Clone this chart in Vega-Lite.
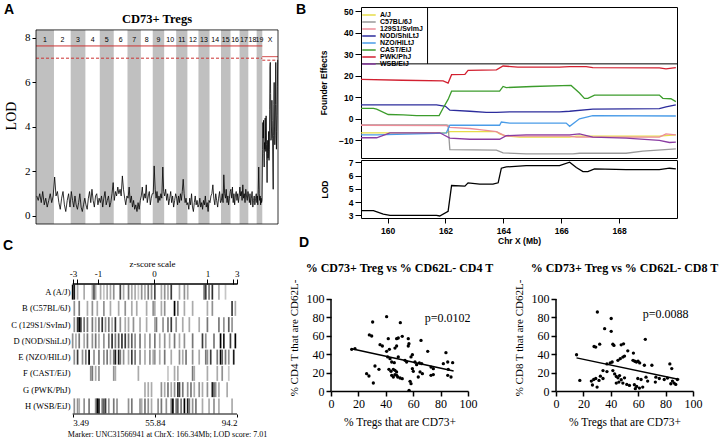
{
"$schema": "https://vega.github.io/schema/vega-lite/v6.json",
"padding": {"left": 3, "top": 2, "right": 0, "bottom": 0},
"config": {"view": {"stroke": null}, "axis": {"grid": false, "labelOverlap": false, "labelColor": "#000", "titleColor": "#000", "tickColor": "#000", "domainColor": "#000"}, "title": {"color": "#000"}},
"datasets": {
"chroms": [
{"c":"1","k":1,"s":0,"e":195.5,"m":97.8},{"c":"2","k":2,"s":195.5,"e":377.6,"m":286.6},{"c":"3","k":3,"s":377.6,"e":537.6,"m":457.6},{"c":"4","k":4,"s":537.6,"e":694.1,"m":615.9},{"c":"5","k":5,"s":694.1,"e":845.9,"m":770},{"c":"6","k":6,"s":845.9,"e":995.6,"m":920.8},{"c":"7","k":7,"s":995.6,"e":1141.0,"m":1068.3},{"c":"8","k":8,"s":1141.0,"e":1270.4,"m":1205.7},{"c":"9","k":9,"s":1270.4,"e":1395.0,"m":1332.7},{"c":"10","k":10,"s":1395.0,"e":1525.7,"m":1460.4},{"c":"11","k":11,"s":1525.7,"e":1647.8,"m":1586.8},{"c":"12","k":12,"s":1647.8,"e":1767.9,"m":1707.9},{"c":"13","k":13,"s":1767.9,"e":1888.3,"m":1828.1},{"c":"14","k":14,"s":1888.3,"e":2013.2,"m":1950.8},{"c":"15","k":15,"s":2013.2,"e":2117.2,"m":2065.2},{"c":"16","k":16,"s":2117.2,"e":2215.4,"m":2166.3},{"c":"17","k":17,"s":2215.4,"e":2310.7,"m":2263.1},{"c":"18","k":18,"s":2310.7,"e":2401.4,"m":2356.1},{"c":"19","k":19,"s":2401.4,"e":2462.8,"m":2432.1},{"c":"X","k":20,"s":2462.8,"e":2633.8,"m":2548.3}
],
"thr": [{"a":0,"b":2462.8,"y":7.64,"k":"s"},{"a":0,"b":2462.8,"y":7.09,"k":"d"},{"a":2462.8,"b":2633.8,"y":7.16,"k":"s"},{"a":2462.8,"b":2633.8,"y":7.0,"k":"d"}],
"lod": [
{"p":8,"l":0.9},{"p":24,"l":0.7},{"p":41,"l":1.0},{"p":57,"l":0.6},{"p":73,"l":1.1},{"p":90,"l":0.5},{"p":106,"l":0.8},{"p":122,"l":0.4},{"p":139,"l":0.7},{"p":155,"l":1.0},{"p":171,"l":0.6},{"p":187,"l":0.9},
{"p":203,"l":1.75},{"p":218,"l":0.9},{"p":233,"l":1.1},{"p":249,"l":0.6},{"p":264,"l":0.3},{"p":279,"l":0.8},{"p":294,"l":1.1},{"p":309,"l":0.5},{"p":324,"l":0.2},{"p":340,"l":0.7},{"p":355,"l":1.0},{"p":370,"l":0.4},
{"p":384,"l":1.1},{"p":398,"l":0.7},{"p":411,"l":0.4},{"p":424,"l":0.9},{"p":437,"l":0.5},{"p":451,"l":0.3},{"p":464,"l":0.6},{"p":477,"l":1.0},{"p":491,"l":0.4},{"p":504,"l":0.2},{"p":517,"l":0.5},{"p":531,"l":0.8},
{"p":544,"l":0.5},{"p":557,"l":0.3},{"p":570,"l":0.8},{"p":583,"l":1.1},{"p":596,"l":0.6},{"p":609,"l":1.2},{"p":622,"l":0.7},{"p":635,"l":0.4},{"p":648,"l":0.9},{"p":661,"l":1.0},{"p":674,"l":0.5},{"p":687,"l":0.8},
{"p":700,"l":0.6},{"p":713,"l":0.9},{"p":726,"l":0.4},{"p":738,"l":0.8},{"p":751,"l":1.1},{"p":764,"l":0.5},{"p":776,"l":0.7},{"p":789,"l":0.9},{"p":802,"l":0.4},{"p":814,"l":0.6},{"p":827,"l":1.0},{"p":840,"l":1.5},
{"p":852,"l":0.7},{"p":865,"l":1.1},{"p":877,"l":0.9},{"p":890,"l":1.3},{"p":902,"l":1.0},{"p":915,"l":1.2},{"p":927,"l":0.9},{"p":940,"l":1.8},{"p":952,"l":1.2},{"p":965,"l":0.8},{"p":977,"l":0.5},{"p":990,"l":0.9},
{"p":1002,"l":0.8},{"p":1014,"l":1.3},{"p":1026,"l":0.6},{"p":1038,"l":0.9},{"p":1050,"l":0.4},{"p":1062,"l":0.7},{"p":1074,"l":0.3},{"p":1086,"l":0.5},{"p":1099,"l":0.2},{"p":1111,"l":0.6},{"p":1123,"l":0.3},{"p":1135,"l":0.7},
{"p":1146,"l":0.9},{"p":1157,"l":1.3},{"p":1168,"l":0.7},{"p":1179,"l":1.0},{"p":1189,"l":0.8},{"p":1200,"l":1.4},{"p":1211,"l":0.6},{"p":1222,"l":0.9},{"p":1233,"l":1.1},{"p":1244,"l":0.5},{"p":1254,"l":0.8},{"p":1265,"l":1.0},
{"p":1276,"l":1.0},{"p":1286,"l":2.25},{"p":1297,"l":1.2},{"p":1307,"l":0.8},{"p":1317,"l":1.1},{"p":1328,"l":0.6},{"p":1338,"l":0.9},{"p":1348,"l":0.7},{"p":1359,"l":1.0},{"p":1369,"l":0.8},{"p":1380,"l":2.2},{"p":1390,"l":1.1},
{"p":1400,"l":0.9},{"p":1411,"l":1.2},{"p":1422,"l":0.7},{"p":1433,"l":1.0},{"p":1444,"l":0.5},{"p":1455,"l":0.8},{"p":1466,"l":1.1},{"p":1476,"l":0.6},{"p":1487,"l":0.9},{"p":1498,"l":0.4},{"p":1509,"l":0.7},{"p":1520,"l":1.0},
{"p":1531,"l":0.8},{"p":1541,"l":0.5},{"p":1551,"l":0.9},{"p":1561,"l":0.6},{"p":1572,"l":1.0},{"p":1582,"l":0.7},{"p":1592,"l":1.1},{"p":1602,"l":1.65},{"p":1612,"l":1.0},{"p":1623,"l":0.6},{"p":1633,"l":0.8},{"p":1643,"l":0.5},
{"p":1653,"l":0.6},{"p":1663,"l":0.3},{"p":1673,"l":0.8},{"p":1683,"l":0.5},{"p":1693,"l":1.0},{"p":1703,"l":0.4},{"p":1713,"l":0.2},{"p":1723,"l":0.6},{"p":1733,"l":0.9},{"p":1743,"l":0.5},{"p":1753,"l":0.7},{"p":1763,"l":0.4},
{"p":1773,"l":0.5},{"p":1783,"l":0.8},{"p":1793,"l":0.4},{"p":1803,"l":0.6},{"p":1813,"l":0.3},{"p":1823,"l":0.7},{"p":1833,"l":0.5},{"p":1843,"l":0.9},{"p":1853,"l":0.4},{"p":1863,"l":0.6},{"p":1873,"l":0.2},{"p":1883,"l":0.7},
{"p":1894,"l":0.6},{"p":1904,"l":0.9},{"p":1914,"l":1.0},{"p":1925,"l":1.4},{"p":1935,"l":0.8},{"p":1946,"l":0.5},{"p":1956,"l":1.0},{"p":1966,"l":0.7},{"p":1977,"l":0.4},{"p":1987,"l":0.8},{"p":1998,"l":1.1},{"p":2008,"l":0.6},
{"p":2018,"l":0.7},{"p":2027,"l":1.0},{"p":2036,"l":0.6},{"p":2044,"l":1.85},{"p":2053,"l":1.0},{"p":2062,"l":0.8},{"p":2070,"l":1.2},{"p":2079,"l":0.6},{"p":2088,"l":0.9},{"p":2096,"l":0.5},{"p":2105,"l":0.8},{"p":2114,"l":1.1},
{"p":2121,"l":1.2},{"p":2130,"l":0.8},{"p":2138,"l":1.3},{"p":2146,"l":0.6},{"p":2154,"l":1.0},{"p":2162,"l":0.5},{"p":2170,"l":0.9},{"p":2179,"l":1.1},{"p":2187,"l":0.7},{"p":2195,"l":1.0},{"p":2203,"l":0.6},{"p":2211,"l":0.9},
{"p":2219,"l":1.3},{"p":2227,"l":0.9},{"p":2235,"l":1.1},{"p":2243,"l":0.7},{"p":2251,"l":1.4},{"p":2259,"l":0.8},{"p":2267,"l":1.0},{"p":2275,"l":0.6},{"p":2283,"l":1.2},{"p":2291,"l":0.9},{"p":2299,"l":0.7},{"p":2307,"l":1.1},
{"p":2314,"l":0.9},{"p":2322,"l":0.6},{"p":2329,"l":1.0},{"p":2337,"l":0.5},{"p":2344,"l":0.8},{"p":2352,"l":1.1},{"p":2360,"l":0.4},{"p":2367,"l":0.7},{"p":2375,"l":0.9},{"p":2382,"l":0.5},{"p":2390,"l":0.8},{"p":2397,"l":1.0},
{"p":2404,"l":0.6},{"p":2409,"l":0.9},{"p":2414,"l":0.5},{"p":2419,"l":1.2},{"p":2424,"l":2.2},{"p":2430,"l":1.0},{"p":2435,"l":0.7},{"p":2440,"l":0.9},{"p":2445,"l":0.5},{"p":2450,"l":0.8},{"p":2455,"l":0.6},{"p":2460,"l":0.7},
{"p":2466,"l":3.0},{"p":2469.5,"l":4.2},{"p":2473,"l":3.5},{"p":2476.5,"l":4.3},{"p":2480,"l":2.8},{"p":2483.5,"l":2.2},{"p":2487,"l":3.3},{"p":2490.5,"l":3.0},{"p":2494,"l":4.4},{"p":2497.5,"l":3.6},{"p":2501,"l":2.9},{"p":2504.5,"l":4.5},{"p":2508,"l":3.2},{"p":2511.5,"l":2.5},{"p":2515,"l":1.5},{"p":2518.5,"l":2.8},{"p":2522,"l":3.4},{"p":2525.5,"l":2.6},{"p":2529,"l":2.9},{"p":2532.5,"l":3.8},{"p":2536,"l":2.5},{"p":2539.5,"l":3.0},{"p":2543,"l":4.8},{"p":2546.5,"l":6.7},{"p":2550,"l":6.9},{"p":2553.5,"l":5.5},{"p":2557,"l":3.4},{"p":2560.5,"l":3.5},{"p":2564,"l":4.0},{"p":2567.5,"l":5.2},{"p":2571,"l":4.3},{"p":2574.5,"l":3.5},{"p":2578,"l":2.2},{"p":2581.5,"l":1.2},{"p":2585,"l":3.6},{"p":2588.5,"l":5.0},{"p":2592,"l":6.0},{"p":2595.5,"l":4.0},{"p":2599,"l":3.2},{"p":2602.5,"l":3.6},{"p":2606,"l":5.0},{"p":2609.5,"l":6.9},{"p":2613,"l":5.0},{"p":2616.5,"l":3.0},{"p":2620,"l":3.8},{"p":2623.5,"l":4.5},{"p":2627,"l":5.8},{"p":2630.5,"l":7.0}
],
"fe": [
{"s":"A/J","x":159.08,"y":-6.5},{"s":"A/J","x":162.03,"y":-6.5},{"s":"A/J","x":162.15,"y":-6.0},{"s":"A/J","x":163.76,"y":-6.0},{"s":"A/J","x":163.87,"y":-7.0},{"s":"A/J","x":164.10,"y":-8.0},{"s":"A/J","x":164.56,"y":-8.5},{"s":"A/J","x":166.29,"y":-8.5},{"s":"A/J","x":166.52,"y":-8.0},{"s":"A/J","x":169.39,"y":-8.0},{"s":"A/J","x":169.96,"y":-7.5},
{"s":"C57BL/6J","x":159.08,"y":-2.8},{"s":"C57BL/6J","x":162.03,"y":-2.8},{"s":"C57BL/6J","x":162.09,"y":-3.0},{"s":"C57BL/6J","x":162.15,"y":-14.3},{"s":"C57BL/6J","x":163.76,"y":-14.5},{"s":"C57BL/6J","x":163.99,"y":-15.8},{"s":"C57BL/6J","x":164.79,"y":-16.3},{"s":"C57BL/6J","x":166.40,"y":-16.3},{"s":"C57BL/6J","x":166.63,"y":-16.0},{"s":"C57BL/6J","x":168.24,"y":-16.0},{"s":"C57BL/6J","x":168.82,"y":-15.0},{"s":"C57BL/6J","x":169.96,"y":-14.0},
{"s":"129S1/SvImJ","x":159.08,"y":-3.0},{"s":"129S1/SvImJ","x":162.03,"y":-3.2},{"s":"129S1/SvImJ","x":162.15,"y":-4.0},{"s":"129S1/SvImJ","x":162.84,"y":-4.5},{"s":"129S1/SvImJ","x":163.18,"y":-5.0},{"s":"129S1/SvImJ","x":163.76,"y":-6.0},{"s":"129S1/SvImJ","x":163.99,"y":-7.5},{"s":"129S1/SvImJ","x":164.10,"y":-8.0},{"s":"129S1/SvImJ","x":166.29,"y":-8.0},{"s":"129S1/SvImJ","x":166.52,"y":-8.5},{"s":"129S1/SvImJ","x":169.39,"y":-8.5},{"s":"129S1/SvImJ","x":169.62,"y":-7.0},{"s":"129S1/SvImJ","x":169.96,"y":-7.5},
{"s":"NOD/ShiLtJ","x":159.08,"y":6.5},{"s":"NOD/ShiLtJ","x":161.69,"y":6.5},{"s":"NOD/ShiLtJ","x":162.0,"y":5.8},{"s":"NOD/ShiLtJ","x":162.15,"y":4.0},{"s":"NOD/ShiLtJ","x":162.84,"y":3.5},{"s":"NOD/ShiLtJ","x":163.41,"y":3.0},{"s":"NOD/ShiLtJ","x":163.76,"y":3.0},{"s":"NOD/ShiLtJ","x":164.22,"y":3.2},{"s":"NOD/ShiLtJ","x":165.94,"y":3.2},{"s":"NOD/ShiLtJ","x":166.29,"y":3.5},{"s":"NOD/ShiLtJ","x":167.09,"y":4.5},{"s":"NOD/ShiLtJ","x":169.39,"y":4.7},{"s":"NOD/ShiLtJ","x":169.62,"y":5.5},{"s":"NOD/ShiLtJ","x":169.96,"y":6.5},
{"s":"NZO/HlLtJ","x":159.08,"y":-7.5},{"s":"NZO/HlLtJ","x":159.62,"y":-7.5},{"s":"NZO/HlLtJ","x":161.69,"y":-6.8},{"s":"NZO/HlLtJ","x":162.03,"y":-6.5},{"s":"NZO/HlLtJ","x":162.15,"y":-3.0},{"s":"NZO/HlLtJ","x":163.87,"y":-3.0},{"s":"NZO/HlLtJ","x":163.93,"y":-1.5},{"s":"NZO/HlLtJ","x":164.22,"y":-2.0},{"s":"NZO/HlLtJ","x":166.17,"y":-2.0},{"s":"NZO/HlLtJ","x":166.29,"y":-3.5},{"s":"NZO/HlLtJ","x":166.63,"y":0.0},{"s":"NZO/HlLtJ","x":167.09,"y":1.5},{"s":"NZO/HlLtJ","x":169.96,"y":1.3},
{"s":"CAST/EiJ","x":159.08,"y":4.8},{"s":"CAST/EiJ","x":159.51,"y":4.8},{"s":"CAST/EiJ","x":159.62,"y":4.5},{"s":"CAST/EiJ","x":160.02,"y":2.0},{"s":"CAST/EiJ","x":160.54,"y":1.8},{"s":"CAST/EiJ","x":161.0,"y":1.5},{"s":"CAST/EiJ","x":161.78,"y":1.5},{"s":"CAST/EiJ","x":161.92,"y":5.0},{"s":"CAST/EiJ","x":162.09,"y":9.0},{"s":"CAST/EiJ","x":162.21,"y":12.8},{"s":"CAST/EiJ","x":163.87,"y":12.8},{"s":"CAST/EiJ","x":163.99,"y":15.0},{"s":"CAST/EiJ","x":164.10,"y":14.5},{"s":"CAST/EiJ","x":165.0,"y":15.0},{"s":"CAST/EiJ","x":166.34,"y":15.5},{"s":"CAST/EiJ","x":166.63,"y":12.0},{"s":"CAST/EiJ","x":166.80,"y":9.5},{"s":"CAST/EiJ","x":166.92,"y":9.5},{"s":"CAST/EiJ","x":167.15,"y":11.0},{"s":"CAST/EiJ","x":169.39,"y":11.0},{"s":"CAST/EiJ","x":169.51,"y":9.5},{"s":"CAST/EiJ","x":169.79,"y":9.3},{"s":"CAST/EiJ","x":169.96,"y":8.0},
{"s":"PWK/PhJ","x":159.08,"y":18.3},{"s":"PWK/PhJ","x":160.5,"y":17.9},{"s":"PWK/PhJ","x":161.92,"y":17.6},{"s":"PWK/PhJ","x":162.09,"y":16.6},{"s":"PWK/PhJ","x":162.21,"y":20.5},{"s":"PWK/PhJ","x":162.67,"y":20.6},{"s":"PWK/PhJ","x":162.78,"y":22.5},{"s":"PWK/PhJ","x":163.76,"y":22.7},{"s":"PWK/PhJ","x":163.99,"y":24.5},{"s":"PWK/PhJ","x":164.5,"y":24.0},{"s":"PWK/PhJ","x":165.94,"y":24.0},{"s":"PWK/PhJ","x":166.29,"y":24.2},{"s":"PWK/PhJ","x":166.86,"y":24.2},{"s":"PWK/PhJ","x":167.09,"y":23.8},{"s":"PWK/PhJ","x":169.39,"y":23.6},{"s":"PWK/PhJ","x":169.62,"y":23.2},{"s":"PWK/PhJ","x":169.96,"y":23.8},
{"s":"WSB/EiJ","x":159.08,"y":-8.8},{"s":"WSB/EiJ","x":159.62,"y":-8.8},{"s":"WSB/EiJ","x":160.08,"y":-6.5},{"s":"WSB/EiJ","x":161.80,"y":-6.5},{"s":"WSB/EiJ","x":162.15,"y":-9.0},{"s":"WSB/EiJ","x":162.84,"y":-9.5},{"s":"WSB/EiJ","x":163.87,"y":-9.5},{"s":"WSB/EiJ","x":164.10,"y":-7.8},{"s":"WSB/EiJ","x":164.79,"y":-7.5},{"s":"WSB/EiJ","x":166.29,"y":-7.5},{"s":"WSB/EiJ","x":166.63,"y":-7.0},{"s":"WSB/EiJ","x":167.09,"y":-8.5},{"s":"WSB/EiJ","x":168.24,"y":-9.0},{"s":"WSB/EiJ","x":169.39,"y":-10.0},{"s":"WSB/EiJ","x":169.74,"y":-11.0},{"s":"WSB/EiJ","x":169.96,"y":-10.8}
],
"lodx": [
{"x":159.08,"y":3.35},{"x":159.51,"y":3.35},{"x":159.85,"y":3.1},{"x":160.08,"y":3.0},{"x":161.69,"y":3.0},{"x":161.80,"y":2.95},{"x":162.09,"y":3.3},{"x":162.21,"y":5.25},{"x":162.67,"y":5.2},{"x":162.78,"y":5.45},{"x":163.18,"y":5.35},{"x":163.64,"y":5.35},{"x":163.82,"y":5.45},{"x":163.93,"y":6.55},{"x":164.10,"y":6.65},{"x":164.79,"y":6.75},{"x":165.94,"y":6.75},{"x":166.29,"y":7.0},{"x":166.52,"y":6.6},{"x":166.75,"y":6.3},{"x":166.92,"y":6.3},{"x":167.15,"y":6.5},{"x":168.24,"y":6.45},{"x":169.39,"y":6.45},{"x":169.74,"y":6.55},{"x":169.96,"y":6.5}
],
"hm": [
{"f":"A","i":0,"v":1},{"f":"A","i":1,"v":0.9},{"f":"A","i":3,"v":0.3},{"f":"A","i":7,"v":0.3},{"f":"A","i":12,"v":0.3},{"f":"A","i":13,"v":0.7},{"f":"A","i":14,"v":0.3},{"f":"A","i":17,"v":0.3},{"f":"A","i":19,"v":0.2},{"f":"A","i":21,"v":0.3},{"f":"A","i":23,"v":0.3},{"f":"A","i":25,"v":0.4},{"f":"A","i":29,"v":0.7},{"f":"A","i":31,"v":0.3},{"f":"A","i":34,"v":0.5},{"f":"A","i":36,"v":0.3},{"f":"A","i":38,"v":0.3},{"f":"A","i":40,"v":0.2},{"f":"A","i":42,"v":0.4},{"f":"A","i":44,"v":0.3},{"f":"A","i":46,"v":0.5},{"f":"A","i":48,"v":0.4},{"f":"A","i":50,"v":0.7},{"f":"A","i":54,"v":0.3},{"f":"A","i":56,"v":0.4},{"f":"A","i":58,"v":0.3},{"f":"A","i":60,"v":0.75},{"f":"A","i":65,"v":0.3},{"f":"A","i":68,"v":0.4},{"f":"A","i":70,"v":0.3},{"f":"A","i":80,"v":0.5},{"f":"A","i":81,"v":0.75},{"f":"A","i":83,"v":0.5},{"f":"A","i":85,"v":0.8},{"f":"A","i":89,"v":0.3},{"f":"A","i":93,"v":0.2},
{"f":"B","i":1,"v":0.4},{"f":"B","i":4,"v":0.5},{"f":"B","i":9,"v":0.3},{"f":"B","i":12,"v":0.4},{"f":"B","i":15,"v":0.3},{"f":"B","i":19,"v":0.4},{"f":"B","i":23,"v":0.3},{"f":"B","i":28,"v":0.3},{"f":"B","i":32,"v":0.4},{"f":"B","i":36,"v":0.3},{"f":"B","i":39,"v":0.3},{"f":"B","i":45,"v":0.3},{"f":"B","i":49,"v":0.4},{"f":"B","i":50,"v":0.3},{"f":"B","i":54,"v":0.3},{"f":"B","i":56,"v":0.4},{"f":"B","i":62,"v":1},{"f":"B","i":64,"v":0.5},{"f":"B","i":68,"v":0.3},{"f":"B","i":73,"v":0.3},{"f":"B","i":82,"v":0.3},{"f":"B","i":85,"v":0.4},{"f":"B","i":97,"v":0.75},{"f":"B","i":99,"v":0.3},
{"f":"C","i":1,"v":0.4},{"f":"C","i":3,"v":0.75},{"f":"C","i":4,"v":1},{"f":"C","i":5,"v":0.75},{"f":"C","i":7,"v":0.5},{"f":"C","i":9,"v":0.5},{"f":"C","i":12,"v":0.5},{"f":"C","i":14,"v":0.3},{"f":"C","i":16,"v":0.5},{"f":"C","i":18,"v":0.8},{"f":"C","i":20,"v":0.4},{"f":"C","i":22,"v":0.5},{"f":"C","i":24,"v":0.3},{"f":"C","i":26,"v":0.8},{"f":"C","i":29,"v":0.4},{"f":"C","i":32,"v":0.3},{"f":"C","i":34,"v":0.3},{"f":"C","i":37,"v":0.4},{"f":"C","i":41,"v":0.3},{"f":"C","i":45,"v":0.3},{"f":"C","i":50,"v":0.3},{"f":"C","i":51,"v":0.5},{"f":"C","i":55,"v":0.4},{"f":"C","i":58,"v":0.5},{"f":"C","i":60,"v":0.75},{"f":"C","i":63,"v":0.4},{"f":"C","i":67,"v":0.3},{"f":"C","i":71,"v":0.3},{"f":"C","i":77,"v":0.3},{"f":"C","i":82,"v":0.5},{"f":"C","i":89,"v":0.5},{"f":"C","i":92,"v":0.4},{"f":"C","i":95,"v":0.6},{"f":"C","i":97,"v":0.4},
{"f":"D","i":0,"v":0.4},{"f":"D","i":2,"v":0.3},{"f":"D","i":4,"v":0.5},{"f":"D","i":7,"v":0.3},{"f":"D","i":9,"v":0.5},{"f":"D","i":12,"v":0.4},{"f":"D","i":14,"v":0.5},{"f":"D","i":16,"v":0.3},{"f":"D","i":19,"v":0.4},{"f":"D","i":22,"v":0.5},{"f":"D","i":24,"v":0.8},{"f":"D","i":26,"v":0.5},{"f":"D","i":28,"v":0.6},{"f":"D","i":30,"v":0.8},{"f":"D","i":32,"v":0.75},{"f":"D","i":34,"v":0.5},{"f":"D","i":36,"v":0.6},{"f":"D","i":38,"v":0.4},{"f":"D","i":41,"v":0.5},{"f":"D","i":44,"v":0.3},{"f":"D","i":47,"v":0.4},{"f":"D","i":50,"v":0.5},{"f":"D","i":53,"v":0.3},{"f":"D","i":56,"v":0.4},{"f":"D","i":59,"v":0.3},{"f":"D","i":62,"v":0.5},{"f":"D","i":65,"v":0.3},{"f":"D","i":68,"v":0.4},{"f":"D","i":73,"v":0.5},{"f":"D","i":79,"v":0.75},{"f":"D","i":81,"v":0.4},{"f":"D","i":86,"v":0.5},{"f":"D","i":90,"v":1},{"f":"D","i":92,"v":0.9},{"f":"D","i":96,"v":0.75},{"f":"D","i":99,"v":1},
{"f":"E","i":1,"v":0.4},{"f":"E","i":3,"v":0.75},{"f":"E","i":6,"v":0.4},{"f":"E","i":8,"v":0.5},{"f":"E","i":10,"v":1},{"f":"E","i":13,"v":0.4},{"f":"E","i":16,"v":0.5},{"f":"E","i":19,"v":0.4},{"f":"E","i":21,"v":0.5},{"f":"E","i":23,"v":0.3},{"f":"E","i":25,"v":0.5},{"f":"E","i":26,"v":0.9},{"f":"E","i":28,"v":0.9},{"f":"E","i":29,"v":0.5},{"f":"E","i":31,"v":0.4},{"f":"E","i":34,"v":0.3},{"f":"E","i":36,"v":0.75},{"f":"E","i":38,"v":0.5},{"f":"E","i":41,"v":0.4},{"f":"E","i":44,"v":0.3},{"f":"E","i":47,"v":0.4},{"f":"E","i":49,"v":0.3},{"f":"E","i":50,"v":0.4},{"f":"E","i":53,"v":0.3},{"f":"E","i":56,"v":0.5},{"f":"E","i":60,"v":0.3},{"f":"E","i":65,"v":0.4},{"f":"E","i":67,"v":0.3},{"f":"E","i":69,"v":0.5},{"f":"E","i":73,"v":0.4},{"f":"E","i":77,"v":0.3},{"f":"E","i":81,"v":0.5},{"f":"E","i":82,"v":0.4},{"f":"E","i":84,"v":0.75},{"f":"E","i":88,"v":0.5},{"f":"E","i":90,"v":1},{"f":"E","i":91,"v":0.6},{"f":"E","i":93,"v":0.5},{"f":"E","i":95,"v":0.4},{"f":"E","i":98,"v":0.9},
{"f":"F","i":11,"v":0.4},{"f":"F","i":12,"v":0.5},{"f":"F","i":14,"v":0.3},{"f":"F","i":16,"v":0.4},{"f":"F","i":25,"v":0.4},{"f":"F","i":26,"v":0.3},{"f":"F","i":40,"v":0.3},{"f":"F","i":58,"v":0.2},{"f":"F","i":62,"v":0.3},{"f":"F","i":64,"v":0.3},{"f":"F","i":73,"v":0.5},{"f":"F","i":74,"v":0.3},{"f":"F","i":82,"v":0.3},{"f":"F","i":88,"v":0.3},{"f":"F","i":91,"v":0.4},{"f":"F","i":95,"v":0.2},
{"f":"G","i":44,"v":0.3},{"f":"G","i":46,"v":0.3},{"f":"G","i":48,"v":0.3},{"f":"G","i":54,"v":0.4},{"f":"G","i":56,"v":0.3},{"f":"G","i":58,"v":0.5},{"f":"G","i":60,"v":0.3},{"f":"G","i":62,"v":0.4},{"f":"G","i":64,"v":0.8},{"f":"G","i":65,"v":0.75},{"f":"G","i":67,"v":0.5},{"f":"G","i":70,"v":0.4},{"f":"G","i":72,"v":0.5},{"f":"G","i":74,"v":0.3},{"f":"G","i":77,"v":0.4},{"f":"G","i":79,"v":0.3},{"f":"G","i":82,"v":0.4},{"f":"G","i":85,"v":0.9},{"f":"G","i":86,"v":0.6},{"f":"G","i":87,"v":0.4},{"f":"G","i":89,"v":0.3},{"f":"G","i":94,"v":0.3},
{"f":"H","i":1,"v":0.4},{"f":"H","i":3,"v":0.4},{"f":"H","i":4,"v":0.3},{"f":"H","i":7,"v":0.4},{"f":"H","i":10,"v":0.5},{"f":"H","i":14,"v":0.4},{"f":"H","i":15,"v":1},{"f":"H","i":16,"v":0.9},{"f":"H","i":18,"v":0.5},{"f":"H","i":19,"v":0.6},{"f":"H","i":20,"v":0.75},{"f":"H","i":22,"v":0.4},{"f":"H","i":25,"v":0.5},{"f":"H","i":27,"v":0.4},{"f":"H","i":34,"v":0.4},{"f":"H","i":36,"v":0.5},{"f":"H","i":41,"v":0.4},{"f":"H","i":42,"v":0.3},{"f":"H","i":44,"v":0.5},{"f":"H","i":46,"v":0.4},{"f":"H","i":48,"v":0.3},{"f":"H","i":52,"v":0.4},{"f":"H","i":54,"v":0.5},{"f":"H","i":57,"v":0.4},{"f":"H","i":60,"v":0.5},{"f":"H","i":61,"v":1},{"f":"H","i":63,"v":0.5},{"f":"H","i":64,"v":0.6},{"f":"H","i":66,"v":0.5},{"f":"H","i":68,"v":1},{"f":"H","i":70,"v":0.9},{"f":"H","i":71,"v":0.5},{"f":"H","i":73,"v":0.4},{"f":"H","i":75,"v":0.5},{"f":"H","i":79,"v":0.3},{"f":"H","i":83,"v":0.3},{"f":"H","i":86,"v":0.4},{"f":"H","i":89,"v":0.3},{"f":"H","i":97,"v":0.3}
],
"d1": [
{"x":15.1,"y":45.3},{"x":17.5,"y":46},{"x":30.4,"y":75},{"x":40.6,"y":80.8},{"x":50.6,"y":74.3},{"x":28,"y":61},{"x":29.7,"y":59.8},{"x":35.8,"y":50.4},{"x":37.5,"y":48.9},{"x":41.8,"y":56.9},{"x":47.9,"y":56.9},{"x":49.1,"y":57.6},{"x":52,"y":59.4},{"x":56.4,"y":56.9},{"x":56.9,"y":51.4},{"x":56.4,"y":48.9},{"x":65.7,"y":55},{"x":46.7,"y":46.7},{"x":47.9,"y":48.9},{"x":40.6,"y":43.1},{"x":42.6,"y":45.3},{"x":59.4,"y":39.5},{"x":58.4,"y":37},{"x":70.6,"y":43.1},{"x":83.9,"y":41.7},{"x":32.1,"y":27.2},{"x":35,"y":23.6},{"x":26,"y":18.8},{"x":27.7,"y":16.3},{"x":30.9,"y":8.7},{"x":41.4,"y":37},{"x":43.1,"y":35.1},{"x":44.3,"y":31.5},{"x":46.2,"y":30.8},{"x":49.1,"y":37},{"x":54,"y":33.3},{"x":55.2,"y":31.5},{"x":42.3,"y":23.6},{"x":43.8,"y":21.4},{"x":45.5,"y":23.6},{"x":46.7,"y":22.5},{"x":47.9,"y":20.7},{"x":44.3,"y":17},{"x":45.5,"y":15.2},{"x":46.7,"y":17.8},{"x":47.9,"y":17},{"x":48.7,"y":15.2},{"x":50.4,"y":14.1},{"x":52,"y":13.4},{"x":57.7,"y":10.5},{"x":58.4,"y":8},{"x":57,"y":0.7},{"x":59.4,"y":24.3},{"x":60.1,"y":21.4},{"x":61.3,"y":31.5},{"x":62.5,"y":28.6},{"x":64.5,"y":30.4},{"x":66.2,"y":29.7},{"x":65,"y":20.7},{"x":66.7,"y":18.8},{"x":63.7,"y":15.2},{"x":73,"y":26},{"x":74.7,"y":24.3},{"x":73,"y":17},{"x":74.7,"y":17.8},{"x":82,"y":29.7},{"x":85.2,"y":31.5},{"x":88.8,"y":30.8},{"x":85.2,"y":17},{"x":87.6,"y":15.2},{"x":85.6,"y":23.6}
],
"d2": [
{"x":15,"y":39.4},{"x":17.4,"y":11.5},{"x":30.2,"y":85.9},{"x":40.3,"y":78.8},{"x":35.5,"y":67.7},{"x":40.3,"y":64.9},{"x":27.8,"y":48.4},{"x":29,"y":47.7},{"x":31.9,"y":50.9},{"x":41.5,"y":50.9},{"x":42.3,"y":49.5},{"x":47.6,"y":50.2},{"x":49.3,"y":51.3},{"x":52.4,"y":43.7},{"x":56.5,"y":41.2},{"x":65.2,"y":56.2},{"x":41,"y":31.5},{"x":45.2,"y":33.3},{"x":46.9,"y":35.1},{"x":48.8,"y":36.9},{"x":50,"y":38},{"x":56.2,"y":33.3},{"x":57.5,"y":32.3},{"x":58.7,"y":31.5},{"x":59.9,"y":32.3},{"x":61.1,"y":30.5},{"x":64.5,"y":28},{"x":70,"y":28},{"x":83.1,"y":29.4},{"x":84.5,"y":24.4},{"x":37.2,"y":29.4},{"x":39.6,"y":30.5},{"x":34.3,"y":22.2},{"x":37.2,"y":21.1},{"x":25.8,"y":10.8},{"x":27.5,"y":12.5},{"x":29,"y":13.6},{"x":31.4,"y":11.5},{"x":32.4,"y":16.1},{"x":34.3,"y":13.6},{"x":26.6,"y":6.5},{"x":30,"y":4.3},{"x":41.5,"y":22.2},{"x":42.8,"y":18.6},{"x":44,"y":15.8},{"x":45.2,"y":14.3},{"x":46.4,"y":16.8},{"x":47.6,"y":12.2},{"x":48.8,"y":8.6},{"x":45.9,"y":9.7},{"x":44,"y":8.6},{"x":50,"y":14.3},{"x":51.7,"y":7.2},{"x":53.6,"y":6.1},{"x":57.2,"y":6.8},{"x":58.9,"y":5},{"x":57.9,"y":2.5},{"x":60.9,"y":3.2},{"x":63.3,"y":4.3},{"x":59.7,"y":13.6},{"x":62.1,"y":12.5},{"x":65.7,"y":15},{"x":66.9,"y":10.8},{"x":72.9,"y":15},{"x":75.4,"y":13.6},{"x":72.5,"y":9.7},{"x":79,"y":12.5},{"x":81.4,"y":14},{"x":85,"y":10.8},{"x":86.2,"y":8.6},{"x":87.4,"y":7.2},{"x":83.8,"y":7.9},{"x":88.6,"y":12.5}
]
},
"spacing": -10,
"vconcat": [
{
"spacing": 15,
"hconcat": [
{
"width": 242, "height": 217,
"layer": [
{"data": {"name": "chroms"}, "transform": [{"filter": "datum.k % 2 == 1"}], "mark": {"type": "rect", "fill": "#c0c0c0"},
 "encoding": {"x": {"field": "s", "type": "quantitative", "scale": {"domain": [0, 2633.8], "nice": false, "zero": false}, "axis": null}, "x2": {"field": "e"},
 "y": {"datum": -0.36, "type": "quantitative", "scale": {"domain": [-0.36, 9.39], "nice": false, "zero": false}}, "y2": {"datum": 8.36}}},
{"data": {"name": "thr"}, "mark": {"type": "rule", "color": "#cc3333", "strokeWidth": 1},
 "encoding": {"x": {"field": "a", "type": "quantitative", "axis": null}, "x2": {"field": "b"}, "y": {"field": "y", "type": "quantitative"},
 "strokeDash": {"field": "k", "type": "nominal", "scale": {"domain": ["s", "d"], "range": [[1, 0], [3, 2]]}, "legend": null}}},
{"data": {"name": "lod"}, "mark": {"type": "line", "color": "#000", "strokeWidth": 0.8},
 "encoding": {"x": {"field": "p", "type": "quantitative", "axis": null},
 "y": {"field": "l", "type": "quantitative", "axis": {"values": [0, 2, 4, 6, 8], "tickCount": 20, "format": "d", "labelOverlap": false, "domain": false, "tickSize": 4, "labelPadding": 2, "labelFont": "Liberation Serif", "labelFontSize": 11, "title": "LOD", "titleFont": "Liberation Serif", "titleFontSize": 14, "titleFontWeight": "normal", "titlePadding": 6}}}},
{"data": {"values": [{}]}, "mark": {"type": "rect", "filled": false, "color": "#000", "strokeWidth": 0.8},
 "encoding": {"x": {"datum": 0, "type": "quantitative", "axis": null}, "x2": {"datum": 2633.8}, "y": {"datum": -0.36, "type": "quantitative"}, "y2": {"datum": 8.36}}},
{"data": {"name": "chroms"}, "mark": {"type": "text", "font": "Liberation Sans", "fontSize": 7, "color": "#000"},
 "encoding": {"x": {"field": "m", "type": "quantitative", "axis": null}, "y": {"datum": 7.91, "type": "quantitative"}, "text": {"field": "c"}}},
{"data": {"values": [{}]}, "mark": {"type": "text", "font": "Liberation Serif", "fontSize": 12.5, "fontWeight": "bold", "color": "#000"},
 "encoding": {"x": {"datum": 1317, "type": "quantitative", "axis": null}, "y": {"datum": 8.85, "type": "quantitative"}, "text": {"value": "CD73+ Tregs"}}},
{"data": {"values": [{}]}, "mark": {"type": "text", "font": "Liberation Sans", "fontSize": 14, "fontWeight": "bold", "color": "#000"},
 "encoding": {"x": {"datum": -294, "type": "quantitative", "axis": null}, "y": {"datum": 9.25, "type": "quantitative"}, "text": {"value": "A"}}}
]
},
{
"spacing": -2,
"vconcat": [
{
"width": 316, "height": 151, "view": {"stroke": "#000", "strokeWidth": 1},
"layer": [
{"data": {"name": "fe"}, "mark": {"type": "line", "strokeWidth": 1.3},
 "encoding": {
 "x": {"field": "x", "type": "quantitative", "scale": {"domain": [159.08, 170.0], "nice": false, "zero": false}, "axis": null},
 "y": {"field": "y", "type": "quantitative", "scale": {"domain": [-18.2, 51.9], "nice": false, "zero": false}, "axis": {"values": [-10, 0, 10, 20, 30, 40, 50], "tickCount": 20, "labelExpr": "format(datum.value, 'd')", "labelOverlap": false, "domain": false, "tickSize": 6, "labelPadding": 2, "labelFont": "Liberation Sans", "labelFontSize": 8.5, "labelFontWeight": "bold", "title": "Founder Effects", "titleFont": "Liberation Sans", "titleFontSize": 8.5, "titleFontWeight": "bold", "titlePadding": 10}},
 "color": {"field": "s", "type": "nominal", "scale": {"domain": ["A/J", "C57BL/6J", "129S1/SvImJ", "NOD/ShiLtJ", "NZO/HlLtJ", "CAST/EiJ", "PWK/PhJ", "WSB/EiJ"], "range": ["#e6dc4a", "#999999", "#ec8c98", "#2c2c9c", "#4a9ce8", "#3c9c2c", "#d22030", "#8a3ca2"]},
  "legend": {"orient": "none", "legendX": 325, "legendY": 5, "direction": "vertical", "title": null, "symbolType": "stroke", "symbolSize": 180, "symbolStrokeWidth": 1.6, "labelFont": "Liberation Sans", "labelFontSize": 7, "labelFontWeight": "bold", "labelColor": "#000", "clipHeight": 6, "rowPadding": 0, "padding": 0, "labelOffset": 3}}}},
{"data": {"values": [{}]}, "mark": {"type": "rule", "color": "#000", "strokeWidth": 1},
 "encoding": {"x": {"datum": 159.08, "type": "quantitative", "axis": null}, "x2": {"datum": 170.0}, "y": {"datum": 25.5, "type": "quantitative"}}},
{"data": {"values": [{}]}, "mark": {"type": "rule", "color": "#000", "strokeWidth": 1},
 "encoding": {"x": {"datum": 161.38, "type": "quantitative", "axis": null}, "y": {"datum": 25.5, "type": "quantitative"}, "y2": {"datum": 51.9}}},
{"data": {"values": [{}]}, "mark": {"type": "text", "font": "Liberation Sans", "fontSize": 14, "fontWeight": "bold", "color": "#000"},
 "encoding": {"x": {"datum": 157.01, "type": "quantitative", "axis": null}, "y": {"datum": 50.5, "type": "quantitative"}, "text": {"value": "B"}}}
]
},
{
"width": 316, "height": 58, "view": {"stroke": "#000", "strokeWidth": 1},
"data": {"name": "lodx"},
"mark": {"type": "line", "color": "#000", "strokeWidth": 1.3},
"encoding": {
 "x": {"field": "x", "type": "quantitative", "scale": {"domain": [159.08, 170.0], "nice": false, "zero": false}, "axis": {"values": [160, 162, 164, 166, 168], "format": "d", "labelOverlap": false, "domain": false, "tickSize": 5, "labelPadding": 3, "labelFlush": false, "labelFont": "Liberation Sans", "labelFontSize": 8.5, "labelFontWeight": "bold", "title": "Chr X (Mb)", "titleFont": "Liberation Sans", "titleFontSize": 8.5, "titleFontWeight": "bold", "titlePadding": 2}},
 "y": {"field": "y", "type": "quantitative", "scale": {"domain": [2.8, 7.17], "nice": false, "zero": false}, "axis": {"values": [3, 4, 5, 6, 7], "format": "d", "labelOverlap": false, "domain": false, "tickSize": 6, "labelPadding": 2, "labelFont": "Liberation Sans", "labelFontSize": 8.5, "labelFontWeight": "bold", "title": "LOD", "titleFont": "Liberation Sans", "titleFontSize": 8.5, "titleFontWeight": "bold", "titlePadding": 19}}
}
}
]
}
]
},
{
"spacing": 20,
"hconcat": [
{
"title": {"text": "C", "anchor": "start", "frame": "group", "dx": -33, "offset": 6, "font": "Liberation Sans", "fontSize": 14, "fontWeight": "bold"},
"width": 201, "height": 130,
"resolve": {"axis": {"x": "independent"}},
"layer": [
{"data": {"name": "hm"}, "mark": {"type": "tick", "thickness": 1.7, "size": 15, "opacity": 1},
 "encoding": {
 "x": {"field": "i", "type": "quantitative", "scale": {"domain": [-22.3, 100], "nice": false, "zero": false},
  "axis": {"orient": "top", "values": [0.2, 2.5, 15.5, 49.5, 82, 97.5, 99.8], "tickCount": 20, "labelOverlap": false, "labelExpr": "datum.value < 1 ? '-3' : datum.value < 10 ? '' : datum.value < 20 ? '-1' : datum.value < 60 ? '0' : datum.value < 90 ? '1' : datum.value < 99 ? '' : '3'", "labelFlush": false, "domain": false, "tickSize": 5, "labelPadding": 1, "labelFont": "Liberation Serif", "labelFontSize": 9, "title": "z-score scale", "titleFont": "Liberation Serif", "titleFontSize": 9, "titleFontWeight": "normal", "titlePadding": 1, "titleX": 116}},
 "y": {"field": "f", "type": "nominal", "scale": {"domain": ["A", "B", "C", "D", "E", "F", "G", "H"], "paddingInner": 0, "paddingOuter": 0},
  "axis": {"domain": false, "ticks": false, "offset": -37, "labelPadding": 3, "labelFont": "Liberation Serif", "labelFontSize": 8.5, "title": null, "labelExpr": "['A (A/J)','B (C57BL/6J)','C (129S1/SvImJ)','D (NOD/ShiLtJ)','E (NZO/HlLtJ)','F (CAST/EiJ)','G (PWK/PhJ)','H (WSB/EiJ)'][indexof('ABCDEFGH', datum.value)]"}},
 "color": {"field": "v", "type": "quantitative", "scale": {"domain": [0, 1], "range": ["#ffffff", "#000000"]}, "legend": null}}},
{"data": {"values": [{}]}, "mark": {"type": "rule", "color": "#000", "strokeWidth": 1.3},
 "encoding": {"x": {"datum": 0, "type": "quantitative", "axis": null}, "x2": {"datum": 100}, "y": {"datum": "A", "type": "nominal", "bandPosition": 0}}},
{"data": {"values": [{}]}, "mark": {"type": "rule", "color": "#000", "strokeWidth": 1},
 "encoding": {"x": {"datum": 0, "type": "quantitative",
  "axis": {"orient": "bottom", "values": [0, 50, 100], "tickCount": 20, "labelOverlap": false, "labelExpr": "datum.value == 0 ? '3.49' : datum.value == 50 ? '55.84' : '94.2'", "labelFlush": 40, "domain": false, "tickSize": 3, "labelPadding": 1, "labelFont": "Liberation Serif", "labelFontSize": 9, "title": "Marker: UNC31566941 at ChrX: 166.34Mb; LOD score: 7.01", "titleFont": "Liberation Serif", "titleFontSize": 8, "titleFontWeight": "normal", "titlePadding": 3, "titleX": 131}},
 "x2": {"datum": 100}, "y": {"datum": "H", "type": "nominal", "bandPosition": 1}}}
]
},
{
"title": {"text": "D", "anchor": "start", "offset": 12, "dx": 11, "font": "Liberation Sans", "fontSize": 14, "fontWeight": "bold"},
"spacing": 18,
"hconcat": [
{
"title": {"text": "% CD73+ Treg vs % CD62L- CD4 T", "font": "Liberation Serif", "fontSize": 12, "fontWeight": "bold", "offset": 4},
"width": 137, "height": 107,
"layer": [
{"data": {"name": "d1"}, "mark": {"type": "circle", "size": 11, "opacity": 1, "color": "#000"},
 "encoding": {
 "x": {"field": "x", "type": "quantitative", "scale": {"domain": [0, 100], "nice": false, "zero": false}, "axis": {"values": [0, 20, 40, 60, 80, 100], "tickCount": 20, "format": "d", "labelOverlap": false, "domainWidth": 1.5, "tickWidth": 1.5, "tickSize": 5, "labelPadding": 2, "labelFlush": false, "labelFont": "Liberation Serif", "labelFontSize": 12, "title": "% Tregs that are CD73+", "titleFont": "Liberation Serif", "titleFontSize": 11.5, "titleFontWeight": "normal", "titlePadding": 7}},
 "y": {"field": "y", "type": "quantitative", "scale": {"domain": [0, 116.3], "nice": false, "zero": false}, "axis": {"values": [0, 20, 40, 60, 80, 100], "tickCount": 20, "format": "d", "labelOverlap": false, "domain": false, "tickWidth": 1.5, "tickSize": 5, "labelPadding": 2, "labelFont": "Liberation Serif", "labelFontSize": 12, "title": "% CD4 T that are CD62L-", "titleFont": "Liberation Serif", "titleFontSize": 11, "titleFontWeight": "normal", "titlePadding": 7}}}},
{"data": {"values": [{}]}, "mark": {"type": "rule", "color": "#000", "strokeWidth": 1.5},
 "encoding": {"x": {"datum": 15, "type": "quantitative"}, "y": {"datum": 46, "type": "quantitative"}, "x2": {"datum": 89.5}, "y2": {"datum": 21.8}}},
{"data": {"values": [{}]}, "mark": {"type": "rule", "color": "#000", "strokeWidth": 1.5},
 "encoding": {"x": {"datum": 0, "type": "quantitative"}, "y": {"datum": 0, "type": "quantitative"}, "y2": {"datum": 100}}},
{"data": {"values": [{}]}, "mark": {"type": "text", "font": "Liberation Serif", "fontSize": 12, "align": "left", "color": "#000"},
 "encoding": {"x": {"datum": 68.5, "type": "quantitative"}, "y": {"datum": 79.5, "type": "quantitative"}, "text": {"value": "p=0.0102"}}}
]
},
{
"title": {"text": "% CD73+ Treg vs % CD62L- CD8 T", "font": "Liberation Serif", "fontSize": 12, "fontWeight": "bold", "offset": 4},
"width": 137, "height": 107,
"layer": [
{"data": {"name": "d2"}, "mark": {"type": "circle", "size": 11, "opacity": 1, "color": "#000"},
 "encoding": {
 "x": {"field": "x", "type": "quantitative", "scale": {"domain": [0, 100], "nice": false, "zero": false}, "axis": {"values": [0, 20, 40, 60, 80, 100], "tickCount": 20, "format": "d", "labelOverlap": false, "domainWidth": 1.5, "tickWidth": 1.5, "tickSize": 5, "labelPadding": 2, "labelFlush": false, "labelFont": "Liberation Serif", "labelFontSize": 12, "title": "% Tregs that are CD73+", "titleFont": "Liberation Serif", "titleFontSize": 11.5, "titleFontWeight": "normal", "titlePadding": 7}},
 "y": {"field": "y", "type": "quantitative", "scale": {"domain": [0, 116.3], "nice": false, "zero": false}, "axis": {"values": [0, 20, 40, 60, 80, 100], "tickCount": 20, "format": "d", "labelOverlap": false, "domain": false, "tickWidth": 1.5, "tickSize": 5, "labelPadding": 2, "labelFont": "Liberation Serif", "labelFontSize": 12, "title": "% CD8 T that are CD62L-", "titleFont": "Liberation Serif", "titleFontSize": 11, "titleFontWeight": "normal", "titlePadding": 7}}}},
{"data": {"values": [{}]}, "mark": {"type": "rule", "color": "#000", "strokeWidth": 1.5},
 "encoding": {"x": {"datum": 15, "type": "quantitative"}, "y": {"datum": 36, "type": "quantitative"}, "x2": {"datum": 90}, "y2": {"datum": 12.5}}},
{"data": {"values": [{}]}, "mark": {"type": "rule", "color": "#000", "strokeWidth": 1.5},
 "encoding": {"x": {"datum": 0, "type": "quantitative"}, "y": {"datum": 0, "type": "quantitative"}, "y2": {"datum": 100}}},
{"data": {"values": [{}]}, "mark": {"type": "text", "font": "Liberation Serif", "fontSize": 12, "align": "left", "color": "#000"},
 "encoding": {"x": {"datum": 63.3, "type": "quantitative"}, "y": {"datum": 84, "type": "quantitative"}, "text": {"value": "p=0.0088"}}}
]
}
]
}
]
}
]
}
